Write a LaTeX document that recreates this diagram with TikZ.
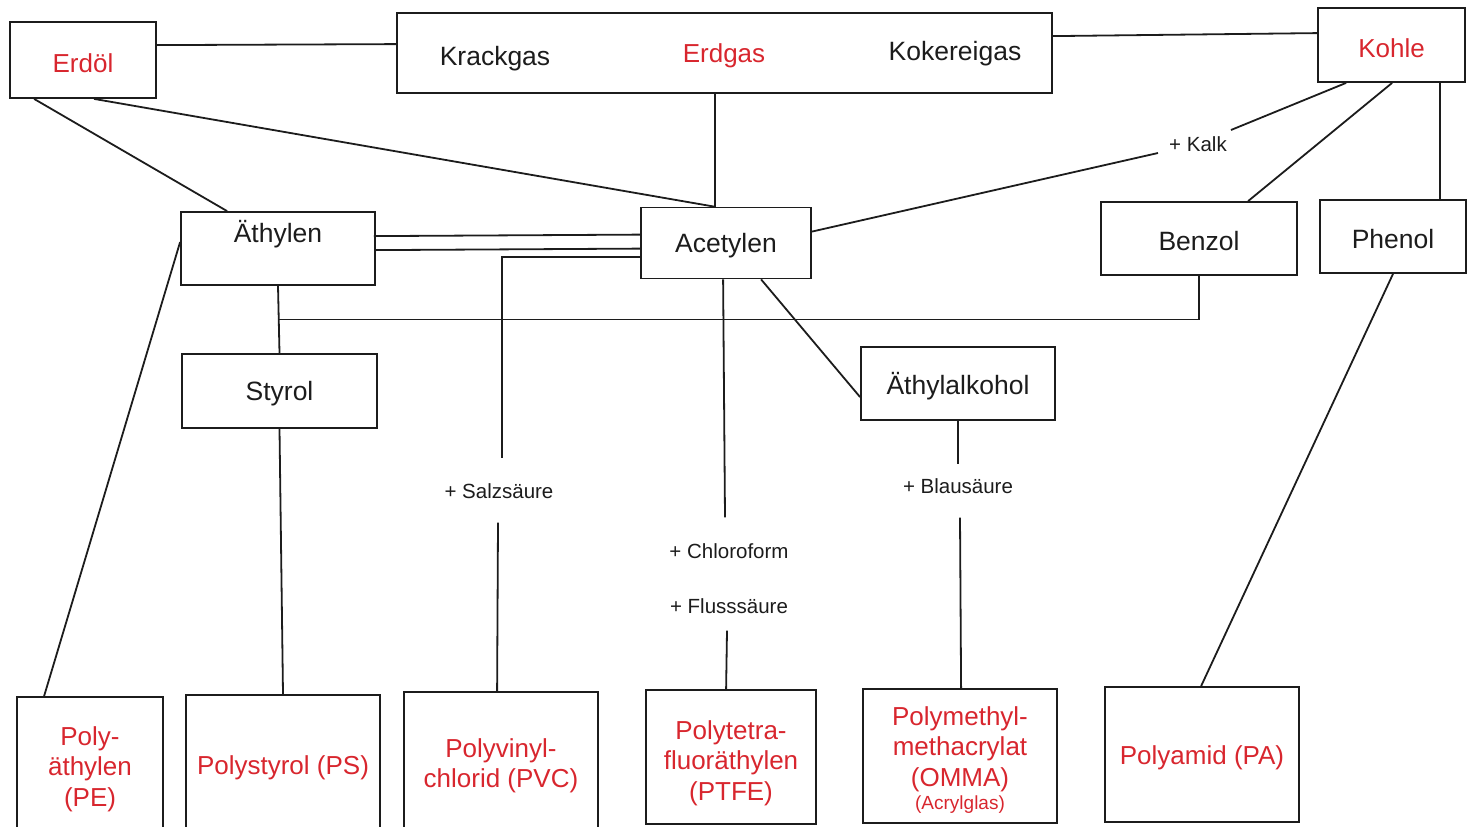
\documentclass[tikz,border=0pt]{standalone}
\usepackage{fontspec}
\setmainfont{Liberation Sans}
\usetikzlibrary{calc}
\definecolor{rot}{RGB}{216,38,46}
\definecolor{ink}{RGB}{28,28,28}
\begin{document}
\begin{tikzpicture}[x=1pt,y=-1pt,
  box/.style={draw=ink, line width=1.8pt, rectangle, inner sep=0pt, align=center},
  big/.style={font=\fontsize{26.5}{30}\selectfont, text=ink, yshift=-3pt},
  red/.style={font=\fontsize{26}{30.5}\selectfont, text=rot, align=center, yshift=-3pt},
  small/.style={font=\fontsize{20.5}{24}\selectfont, text=ink, inner sep=0pt},
  con/.style={draw=ink, line width=1.8pt}]
\useasboundingbox (0,0) rectangle (1475,827);
% top row
\node[box, minimum width=146pt, minimum height=76pt] (erdoel) at (83,60) {};
\node[red] (erdoeltxt) at (83,60) {Erdöl};
\node[box, minimum width=655pt, minimum height=80pt] (gas) at (724.5,53) {};
\node[big] (krack) at (495,56) {Krackgas};
\node[red] (erdgas) at (724,53) {Erdgas};
\node[big] (koker) at (955,51) {Kokereigas};
\node[box, minimum width=147pt, minimum height=74pt] (kohle) at (1391.5,45) {};
\node[red] (kohletxt) at (1391.5,45) {Kohle};
% middle row
\node[box, minimum width=194pt, minimum height=73pt] (aeth) at (278,248.5) {};
\node[big] (aethtxt) at (278,231) {Äthylen};
\node[box, minimum width=170pt, minimum height=71pt] (acet) at (726,243) {};
\node[big] (acettxt) at (726,243) {Acetylen};
\node[box, minimum width=196pt, minimum height=73pt] (benzol) at (1199,238.5) {};
\node[big] (benzoltxt) at (1199,238.5) {Benzol};
\node[box, minimum width=146pt, minimum height=73pt] (phenol) at (1393,236.5) {};
\node[big] (phenoltxt) at (1393,236.5) {Phenol};
\node[box, minimum width=195pt, minimum height=74pt] (styrol) at (279.5,391) {};
\node[big] (styroltxt) at (279.5,391) {Styrol};
\node[box, minimum width=194pt, minimum height=73pt] (alk) at (958,383.5) {};
\node[big] (alktxt) at (958,383.5) {Äthylalkohol};
% labels
\node[small] (kalk) at (1198,144) {+ Kalk};
\node[small] (salz) at (499,491) {+ Salzsäure};
\node[small] (chlor) at (729,551) {+ Chloroform};
\node[small] (fluss) at (729,606) {+ Flusssäure};
\node[small] (blau) at (958,486) {+ Blausäure};
% bottom row
\node[box, minimum width=146pt, minimum height=143pt] (pe) at (90,768.5) {};
\node[red] (petxt) at (90,766) {Poly-\\äthylen\\(PE)};
\node[box, minimum width=194pt, minimum height=145pt] (ps) at (283,767.5) {};
\node[red] (pstxt) at (283,765) {Polystyrol (PS)};
\node[box, minimum width=194pt, minimum height=148pt] (pvc) at (501,766) {};
\node[red] (pvctxt) at (501,763) {Polyvinyl-\\chlorid (PVC)};
\node[box, minimum width=170pt, minimum height=134pt] (ptfe) at (731,757) {};
\node[red] (ptfetxt) at (731,760) {Polytetra-\\fluoräthylen\\(PTFE)};
\node[box, minimum width=194pt, minimum height=134pt] (omma) at (960,756) {};
\node[red, yshift=2pt] (ommatxt) at (960,759) {Polymethyl-\\methacrylat\\(OMMA)\\[-7pt]{\fontsize{19}{22}\selectfont(Acrylglas)}};
\node[box, minimum width=194pt, minimum height=135pt] (pa) at (1202,754.5) {};
\node[red] (patxt) at (1202,754.5) {Polyamid (PA)};
% connectors
\draw[con] ($(erdoel.north east)+(0,24)$) -- ($(gas.north west)+(0,32)$);
\draw[con] ($(gas.north east)+(0,24)$) -- ($(kohle.north west)+(0,26)$);
\draw[con] ($(erdoel.south west)+(25,0)$) -- ($(aeth.north west)+(47,0)$);
\draw[con] ($(erdoel.south west)+(85,0)$) -- ($(acet.north west)+(74,0)$);
\draw[con] ($(gas.south west)+(319,0)$) -- ($(acet.north west)+(75,0)$);
\draw[con] ($(acet.north east)+(0,25)$) -- ($(kalk.west)+(-11,9)$);
\draw[con] ($(kalk.east)+(4,-14)$) -- ($(kohle.south west)+(29,0)$);
\draw[con] ($(kohle.south west)+(75,0)$) -- ($(benzol.north west)+(148,0)$);
\draw[con] ($(kohle.south west)+(123,0)$) -- ($(phenol.north west)+(121,0)$);
\draw[con] ($(aeth.north east)+(-2,25)$) -- ($(acet.north west)+(0,28)$);
\draw[con] ($(aeth.north east)+(0,39)$) -- ($(acet.north west)+(0,42)$);
\draw[con] ($(acet.north west)+(0,50)$) -| ($(salz.north)+(3,-25)$);
\draw[con] ($(salz.south)+(-1,24)$) -- ($(pvc.north west)+(94,0)$);
\draw[con] ($(aeth.north west)+(0,31)$) -- ($(pe.north west)+(28,0)$);
\draw[con] (aeth.south) -- (styrol.north);
\draw[con] (benzol.south) |- ($(aeth.south)!0.5!(styrol.north)$);
\draw[con] (styrol.south) -- (ps.north);
\draw[con] ($(acet.south west)+(83,0)$) -- ($(chlor.north)+(-4,-26)$);
\draw[con] ($(fluss.south)+(-2,17)$) -- ($(ptfe.north west)+(81,0)$);
\draw[con] ($(acet.south west)+(121,0)$) -- ($(alk.north west)+(0,51)$);
\draw[con] (alk.south) -- ($(blau.north)+(0,-14)$);
\draw[con] ($(blau.south)+(2,24)$) -- ($(omma.north west)+(99,0)$);
\draw[con] (phenol.south) -- ($(pa.north west)+(97,0)$);
\end{tikzpicture}
\end{document}
